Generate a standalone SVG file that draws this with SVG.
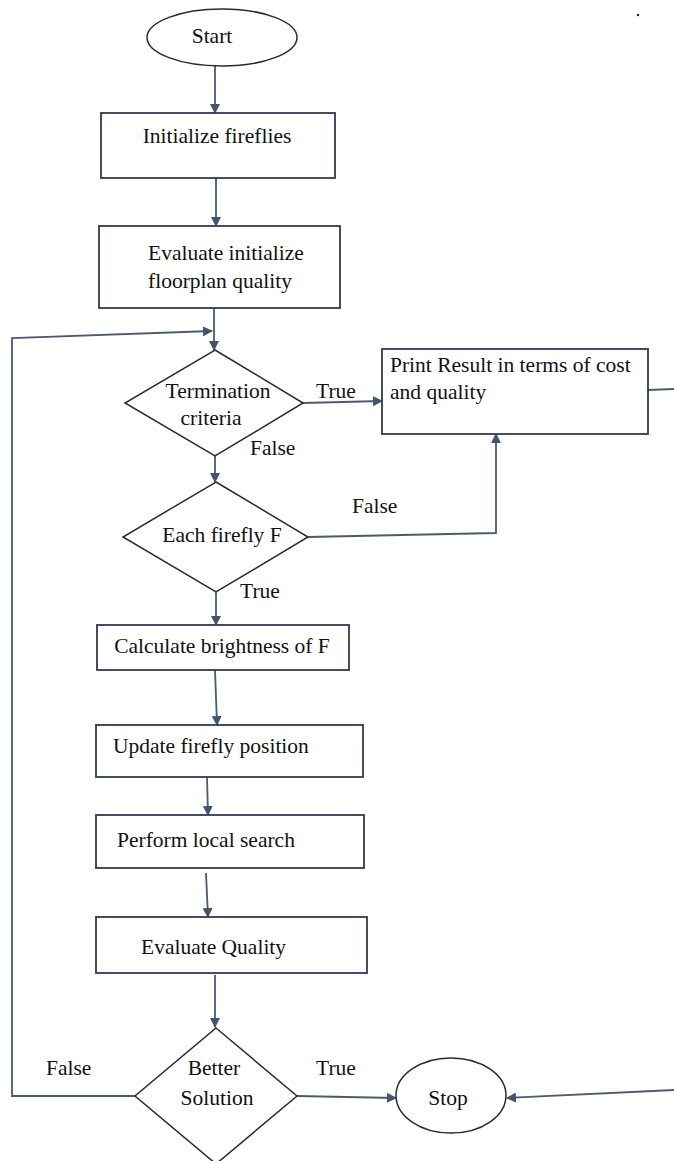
<svg xmlns="http://www.w3.org/2000/svg" width="674" height="1161" viewBox="0 0 674 1161">
<style>
.shape{fill:#fff;stroke:#2b2b2b;stroke-width:1.5}
.box{fill:#fff;stroke:#2f3b52;stroke-width:1.8}
.conn{fill:none;stroke:#4b5a73;stroke-width:1.8}
text{font-family:"Liberation Serif","Times New Roman",serif;font-size:21.5px;fill:#111}
.c{text-anchor:middle}
</style>
<defs>
<marker id="ah" markerWidth="10" markerHeight="10" refX="9" refY="5" orient="auto" markerUnits="userSpaceOnUse">
<path d="M0,0 L10,5 L0,10 z" fill="#44546a"/>
</marker>
</defs>
<rect width="674" height="1161" fill="#fff"/>
<circle cx="638" cy="15" r="1.2" fill="#222"/>
<g id="connectors">
<line class="conn" x1="215" y1="66" x2="215" y2="113" marker-end="url(#ah)"/>
<line class="conn" x1="216" y1="178" x2="216" y2="226" marker-end="url(#ah)"/>
<line class="conn" x1="214" y1="308" x2="214" y2="350" marker-end="url(#ah)"/>
<polyline class="conn" points="135,1096 12,1096 12,338 212,331" marker-end="url(#ah)"/>
<line class="conn" x1="303" y1="403" x2="382" y2="401" marker-end="url(#ah)"/>
<line class="conn" x1="648" y1="390" x2="674" y2="389"/>
<line class="conn" x1="215" y1="456" x2="215" y2="482" marker-end="url(#ah)"/>
<polyline class="conn" points="308,537 496,533 496,434" marker-end="url(#ah)"/>
<line class="conn" x1="216" y1="592" x2="216" y2="625" marker-end="url(#ah)"/>
<line class="conn" x1="215" y1="670" x2="217" y2="725" marker-end="url(#ah)"/>
<line class="conn" x1="207" y1="777" x2="208" y2="815" marker-end="url(#ah)"/>
<line class="conn" x1="206" y1="873" x2="208" y2="917" marker-end="url(#ah)"/>
<line class="conn" x1="215" y1="975" x2="215" y2="1027" marker-end="url(#ah)"/>
<line class="conn" x1="297" y1="1096" x2="396" y2="1098" marker-end="url(#ah)"/>
<line class="conn" x1="674" y1="1090" x2="507" y2="1098" marker-end="url(#ah)"/>
</g>
<g id="start">
<ellipse class="shape" cx="222" cy="37.5" rx="75" ry="28.5"/>
<text class="c" x="212" y="43">Start</text>
</g>
<g id="init">
<rect class="box" x="101" y="113" width="234" height="65"/>
<text class="c" x="217" y="143">Initialize fireflies</text>
</g>
<g id="evalinit">
<rect class="box" x="99" y="226" width="241" height="82"/>
<text x="148" y="260">Evaluate initialize</text>
<text x="148" y="288">floorplan quality</text>
</g>
<g id="term">
<polygon class="shape" points="215,350 303,403 215,456 125,403"/>
<text class="c" x="218" y="398">Termination</text>
<text class="c" x="211" y="425">criteria</text>
</g>
<g id="print">
<rect class="box" x="382" y="349" width="266" height="85"/>
<text x="390" y="372">Print Result in terms of cost</text>
<text x="390" y="399">and quality</text>
</g>
<g id="each">
<polygon class="shape" points="216,482 308,537 216,592 123,537"/>
<text class="c" x="222" y="542">Each firefly F</text>
</g>
<g id="calc">
<rect class="box" x="97" y="625" width="252" height="45"/>
<text class="c" x="222" y="653">Calculate brightness of F</text>
</g>
<g id="update">
<rect class="box" x="96" y="725" width="267" height="52"/>
<text x="113" y="753">Update firefly position</text>
</g>
<g id="local">
<rect class="box" x="96" y="815" width="268" height="53"/>
<text x="117" y="847">Perform local search</text>
</g>
<g id="evalq">
<rect class="box" x="96" y="917" width="271" height="56"/>
<text x="141" y="954">Evaluate Quality</text>
</g>
<g id="better">
<polygon class="shape" points="216,1028 297,1096 216,1164 135,1096"/>
<text class="c" x="214" y="1075">Better</text>
<text class="c" x="217" y="1105">Solution</text>
</g>
<g id="stop">
<ellipse class="shape" cx="451" cy="1095.5" rx="55" ry="37.5"/>
<text class="c" x="448" y="1105">Stop</text>
</g>
<g id="labels">
<text x="316" y="398">True</text>
<text x="250" y="455">False</text>
<text x="352" y="513">False</text>
<text x="240" y="598">True</text>
<text x="46" y="1075">False</text>
<text x="316" y="1075">True</text>
</g>
</svg>
